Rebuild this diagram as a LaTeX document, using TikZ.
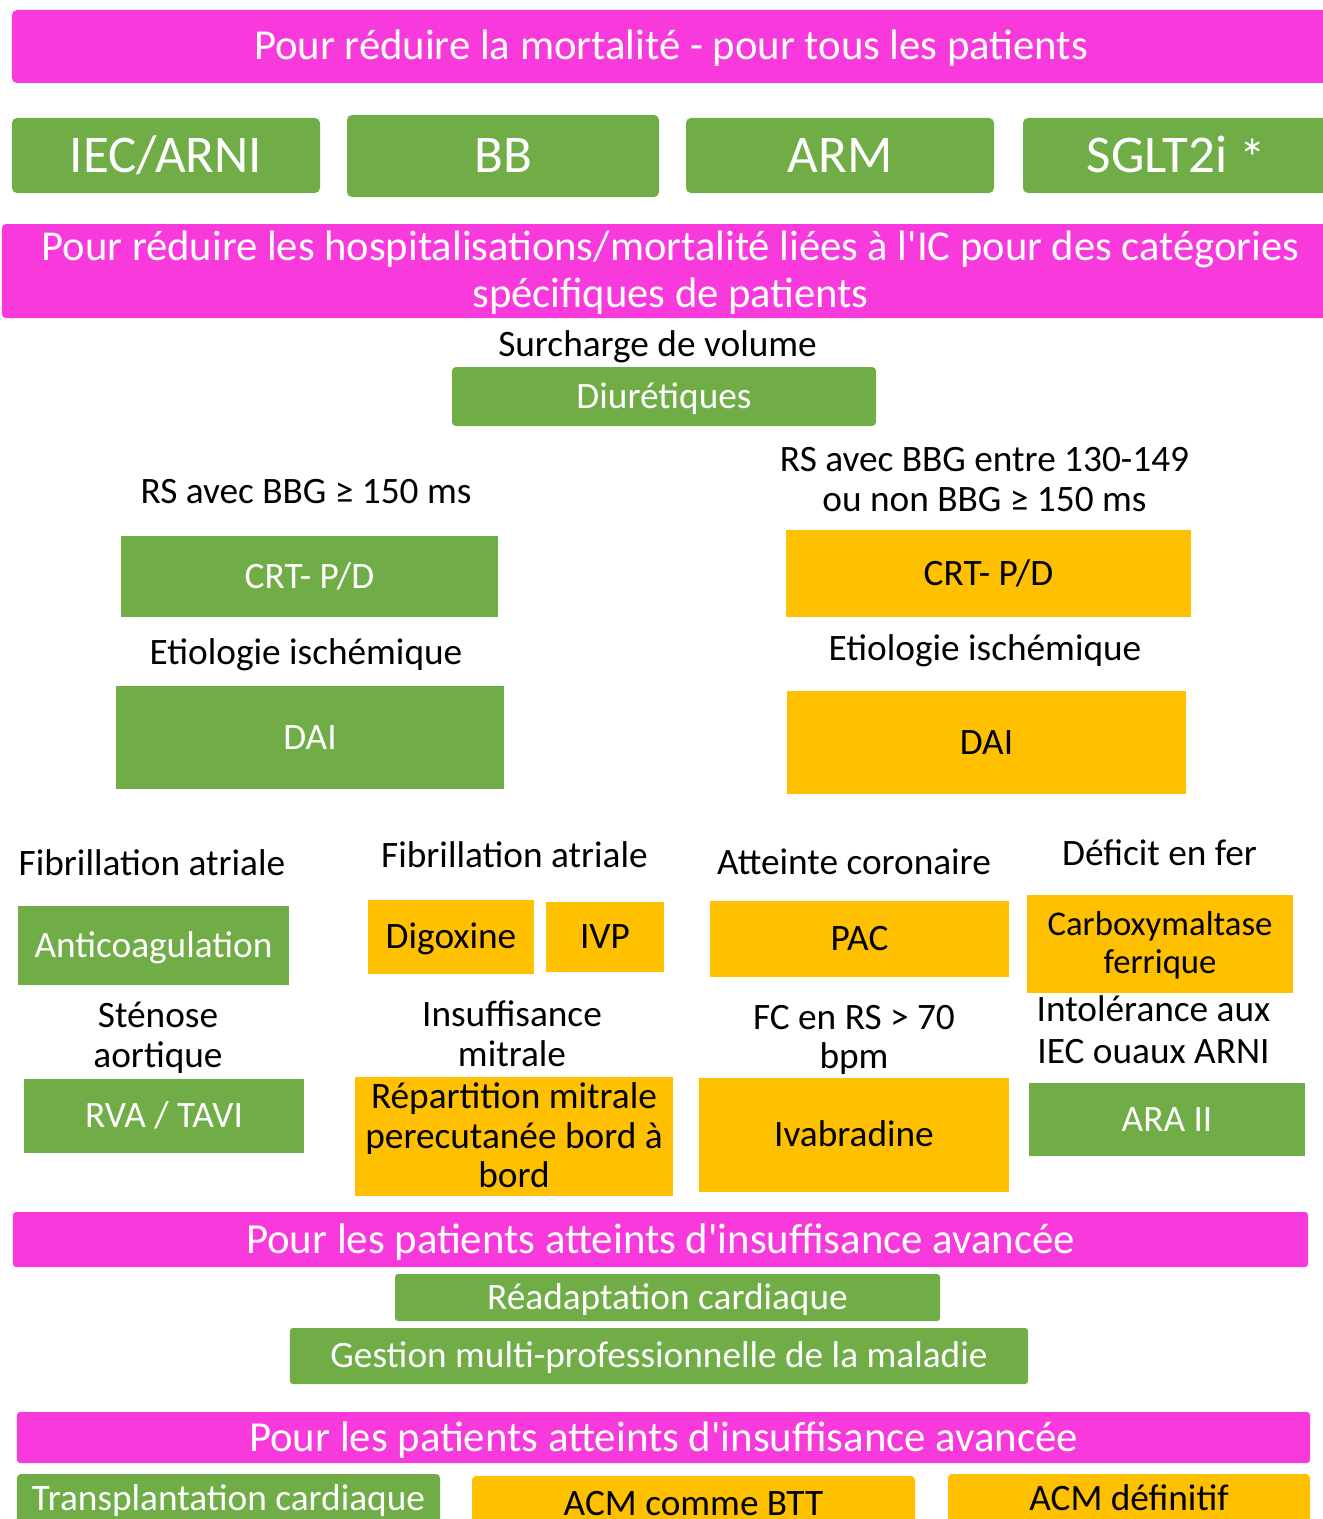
\documentclass[tikz,border=0pt]{standalone}
\usepackage{fontspec}
\setmainfont{Carlito}[Ligatures=TeXOff]
\definecolor{mag}{RGB}{248,58,220}
\definecolor{grn}{RGB}{112,173,71}
\definecolor{org}{RGB}{255,192,0}
\newcommand{\mystrut}{\rule[\dimexpr-0.5\baselineskip+0.316em\relax]{0pt}{\baselineskip}}
\newcommand{\bx}[7]{%
  \pgfmathsetmacro{\bxcx}{(#2+#4)/2}%
  \pgfmathsetmacro{\bxcy}{(#3+#5)/2}%
  \pgfmathsetmacro{\bxw}{#4-#2}%
  \pgfmathsetmacro{\bxh}{#5-#3}%
  \node[#6, minimum width=\bxw bp, minimum height=\bxh bp] (#1) at (\bxcx,\bxcy) {#7};}
\tikzset{
  basic/.style={inner sep=0pt, outer sep=0pt, align=center,
    execute at begin node=\mystrut, execute at end node=\mystrut},
  fs/.style 2 args={font=\fontsize{#1bp}{#2bp}\selectfont},
  mbox/.style={basic, fill=mag, text=white, rounded corners=5bp},
  gbox/.style={basic, fill=grn, text=white},
  obox/.style={basic, fill=org, text=black},
  lbl/.style={basic, text=black, fs={37.3}{41}},
  tx/.style={fs={37.3}{41}},
}
\begin{document}
\begin{tikzpicture}[x=1bp, y=-1bp]
\path[use as bounding box] (0,0) rectangle (1323,1519);
\clip (0,0) rectangle (1323,1519);
% banner 1
\bx{b1}{12}{10}{1330}{83}{mbox, fs={42.7}{50}}{Pour réduire la mortalité - pour tous les patients}
% top row
\bx{g1}{12}{118}{320}{193}{gbox, rounded corners=5bp, fs={53}{64}}{IEC/ARNI}
\bx{g2}{347}{115}{659}{197}{gbox, rounded corners=5bp, fs={53}{64}}{BB}
\bx{g3}{686}{118}{994}{193}{gbox, rounded corners=5bp, fs={53}{64}}{ARM}
\bx{g4}{1023}{118}{1330}{193}{gbox, rounded corners=5bp, fs={53}{64}}{SGLT2i \raisebox{-4bp}{*}}
% banner 2
\bx{b2}{2}{224}{1339}{318}{mbox, rounded corners=4bp, fs={42.6}{47}}{\mystrut Pour réduire les hospitalisations/mortalité liées à l'IC pour des catégories\\spécifiques de patients}
% volume
\node[lbl] (surch) at (657.5,344.5) {Surcharge de volume};
\bx{diur}{452}{367}{876}{426}{gbox, rounded corners=4bp, tx}{Diurétiques}
% CRT
\node[lbl] (rs1) at (306,491.5) {RS avec BBG ≥ 150 ms};
\node[lbl, fs={37.3}{40}] (rs2) at (984.5,479.5) {\mystrut RS avec BBG entre 130-149\\ou non BBG ≥ 150 ms};
\bx{crt1}{121}{536}{498}{617}{gbox, tx}{CRT- P/D}
\bx{crt2}{786}{530}{1191}{617}{obox, tx}{CRT- P/D}
% DAI
\node[lbl] (etio1) at (306,652.5) {Etiologie ischémique};
\node[lbl] (etio2) at (985,648.5) {Etiologie ischémique};
\bx{dai1}{116}{686}{504}{789}{gbox, tx}{DAI}
\bx{dai2}{787}{691}{1186}{794}{obox, tx}{DAI}
% row of four
\node[lbl] (fib1) at (152,864) {Fibrillation atriale};
\node[lbl] (fib2) at (514.5,856) {Fibrillation atriale};
\node[lbl] (coro) at (854,863) {Atteinte coronaire};
\node[lbl] (fer) at (1159.5,853.5) {Déficit en fer};
\bx{anti}{18}{906}{289}{985}{gbox, tx}{Anticoagulation}
\bx{digo}{368}{900}{534}{974}{obox, tx}{Digoxine}
\bx{ivp}{546}{902}{664}{972}{obox, tx}{IVP}
\bx{pac}{710}{901}{1009}{977}{obox, tx}{PAC}
\bx{carb}{1027}{895}{1293}{993}{obox, fs={34.7}{38}}{\mystrut Carboxymaltase\\ferrique}
\node[lbl, fs={37.3}{40}] (sten) at (158,1036) {\mystrut Sténose\\aortique};
\node[lbl, fs={37.3}{40.5}] (insm) at (512,1034.5) {\mystrut Insuffisance\\mitrale};
\node[lbl, fs={37.3}{39}] (fc) at (854,1037.5) {\mystrut FC en RS > 70\\bpm};
\node[lbl, fs={37.3}{42}] (intol) at (1153.5,1031) {\mystrut Intolérance aux\\IEC ouaux ARNI};
\bx{rva}{24}{1079}{304}{1153}{gbox, tx}{RVA / TAVI}
\bx{rep}{355}{1077}{673}{1196}{obox, fs={37.3}{39.5}}{\mystrut Répartition mitrale\\perecutanée bord à\\bord}
\bx{iva}{699}{1078}{1009}{1192}{obox, tx}{Ivabradine}
\bx{ara}{1029}{1083}{1305}{1156}{gbox, tx}{ARA II}
% banner 3
\bx{b3}{13}{1212}{1308}{1267}{mbox, rounded corners=3bp, fs={42.8}{48}}{Pour les patients atteints d'insuffisance avancée}
\bx{rea}{395}{1274}{940}{1321}{gbox, rounded corners=3bp, tx}{Réadaptation cardiaque}
\bx{ges}{290}{1328}{1028}{1384}{gbox, rounded corners=3bp, tx}{Gestion multi-professionnelle de la maladie}
% banner 4
\bx{b4}{17}{1412}{1310}{1463}{mbox, rounded corners=3bp, fs={42.8}{48}}{Pour les patients atteints d'insuffisance avancée}
\bx{tra}{17}{1474}{440}{1523}{gbox, rounded corners=4bp, tx}{Transplantation cardiaque}
\bx{acm1}{472}{1476}{915}{1531}{obox, rounded corners=4bp, tx}{ACM comme BTT}
\bx{acm2}{948}{1474}{1310}{1524}{obox, rounded corners=4bp, tx}{ACM définitif}
\end{tikzpicture}
\end{document}
